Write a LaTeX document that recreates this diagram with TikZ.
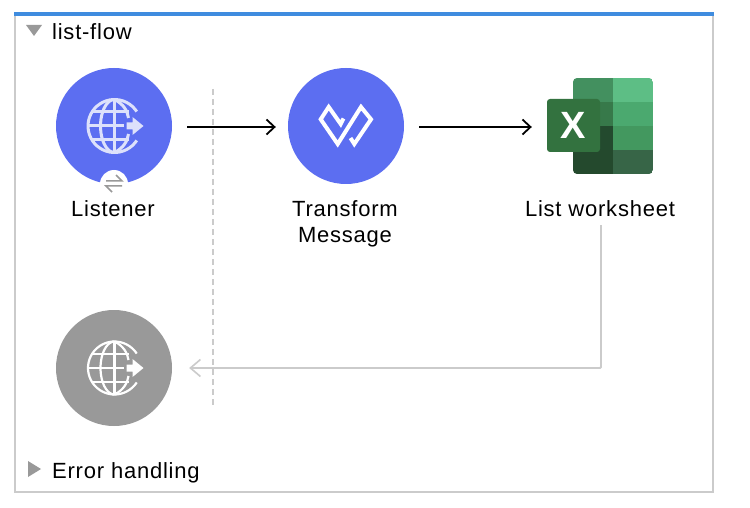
\documentclass[tikz,border=0pt]{standalone}
\usepackage{fontspec}
\setmainfont[LetterSpace=3.5]{Liberation Sans}
\usetikzlibrary{arrows.meta}
\definecolor{muleblue}{HTML}{5C6EF1}
\definecolor{mulegray}{HTML}{999999}
\definecolor{framegray}{HTML}{CBCBCB}
\definecolor{topblue}{HTML}{3F8CDF}
\definecolor{globepale}{HTML}{DDE1FB}
\definecolor{xa}{HTML}{43905F}
\definecolor{xb}{HTML}{5DBE85}
\definecolor{xc}{HTML}{37794A}
\definecolor{xd}{HTML}{4BA96F}
\definecolor{xe}{HTML}{234A2E}
\definecolor{xf}{HTML}{43985F}
\definecolor{xg}{HTML}{24492D}
\definecolor{xh}{HTML}{376547}
\definecolor{xfront}{HTML}{33723F}
\tikzset{
  lbl/.style={font=\fontsize{22}{26}\selectfont,text=black,inner sep=0pt,align=center},
  opcircle/.style={circle,minimum size=116pt,inner sep=0pt,draw=none},
  flowarrow/.style={black,line width=1.8pt,-{Straight Barb[length=8pt,width=15pt,line width=1.8pt]}},
  errarrow/.style={framegray,line width=1.8pt,-{Straight Barb[length=10pt,width=17pt,line width=1.6pt]}},
  frameline/.style={framegray,line width=2.2pt},
  tri/.style={fill=mulegray,draw=none},
}
\newcommand{\globeicon}[4]{% x, y, colour, line width
  \begin{scope}[shift={(#1,#2)},draw=#3,line width=#4,fill=none]
    \draw plot[smooth,domain=33:327,samples=40] ({26.5*cos(\x)},{26.5*sin(\x)});
    \draw (0,-26.5) -- (0,26.5);
    \draw plot[smooth,domain=90:270,samples=20] ({14*cos(\x)},{26.5*sin(\x)});
    \draw (0,-26.5) .. controls (9,-22) and (13,-15) .. (14,-8);
    \draw (0,26.5) .. controls (9,22) and (13,15) .. (14,8);
    \draw (-26.5,0) -- (9,0);
    \draw (-22,-14) -- (14,-14);
    \draw (-22,14) -- (14,14);
    \fill[#3,draw=none] (12,-3.5) -- (18,-3.5) -- (18,-9) -- (29,0) -- (18,9) -- (18,3.5) -- (12,3.5) -- cycle;
  \end{scope}
}
\begin{document}
\begin{tikzpicture}[x=1pt,y=-1pt]
  \useasboundingbox[fill=white] (0,0) rectangle (750,508);
  % frame
  \draw[frameline] (15,14) -- (15,492) -- (713,492) -- (713,14);
  \fill[topblue] (14,12) rectangle (714,16);
  % triangles
  \fill[tri] (26,25) -- (42,25) -- (34,36) -- cycle;
  \fill[tri] (28,461) -- (41,469) -- (28,477) -- cycle;
  \node[lbl,anchor=base west] (flowtitle) at (52,40) {list-flow};
  \node[lbl,anchor=base west] (errtitle) at (52,478) {Error handling};
  % divider
  \draw[framegray,line width=2pt,dash pattern=on 6pt off 4pt] (213,89) -- (213,405);
  % operations
  \node[opcircle,fill=muleblue] (listener) at (114,126) {};
  \node[opcircle,fill=muleblue] (transform) at (346,126) {};
  \node[opcircle,fill=mulegray] (errsource) at (114,368) {};
  \globeicon{114.5}{126}{globepale}{3pt}
  \globeicon{114.5}{368}{white}{2.2pt}
  % swap badge
  \node[circle,fill=white,minimum size=28pt,inner sep=0pt] (badge) at (114,184) {};
  \draw[mulegray,line width=1.5pt] (106,181) -- (122,181) -- (116,175);
  \draw[mulegray,line width=1.5pt] (122,186) -- (106,186) -- (112,192);
  % dataweave logo
  \draw[white,line width=4pt,miter limit=10]
    (343.5,118.5) -- (340.7,124) -- (328.7,107) -- (320.7,119.3) -- (337.7,144) -- (361,107) -- (371,119.3) -- (354.3,144) -- (350.5,138);
  % excel icon
  \begin{scope}
    \clip[rounded corners=4pt] (573,78) rectangle (653,174);
    \fill[xa] (573,78) rectangle (613,102.5);
    \fill[xb] (613,78) rectangle (653,102.5);
    \fill[xc] (573,102.5) rectangle (613,126);
    \fill[xd] (613,102.5) rectangle (653,126);
    \fill[xe] (573,126) rectangle (613,150);
    \fill[xf] (613,126) rectangle (653,150);
    \fill[xg] (573,150) rectangle (613,174);
    \fill[xh] (613,150) rectangle (653,174);
  \end{scope}
  \node[draw=none,fill=xfront,rounded corners=3pt,minimum width=53pt,minimum height=53pt,inner sep=0pt] (excel) at (573.5,125.5) {};
  \node[inner sep=0pt,text=white,font=\fontsize{38}{38}\selectfont\bfseries] (excelx) at (573.5,125.5) {X};
  % labels
  \node[lbl] (listenerlbl) at (113,209) {Listener};
  \node[lbl] (transformlbl) at (345,224) {Transform\\Message};
  \node[lbl] (sheetlbl) at (600,209) {List worksheet};
  % connectors
  \draw[flowarrow,shorten <=15pt,shorten >=12pt] ([yshift=-1pt]listener.east) -- ([yshift=-1pt]transform.west);
  \draw[flowarrow,shorten <=15pt,shorten >=15pt] ([yshift=-1pt]transform.east) -- ([yshift=-1.5pt]excel.west);
  \coordinate (sheetout) at (601,225);
  \draw[errarrow,shorten >=17pt,rounded corners=1pt] (sheetout) |- (errsource.east);
\end{tikzpicture}
\end{document}
